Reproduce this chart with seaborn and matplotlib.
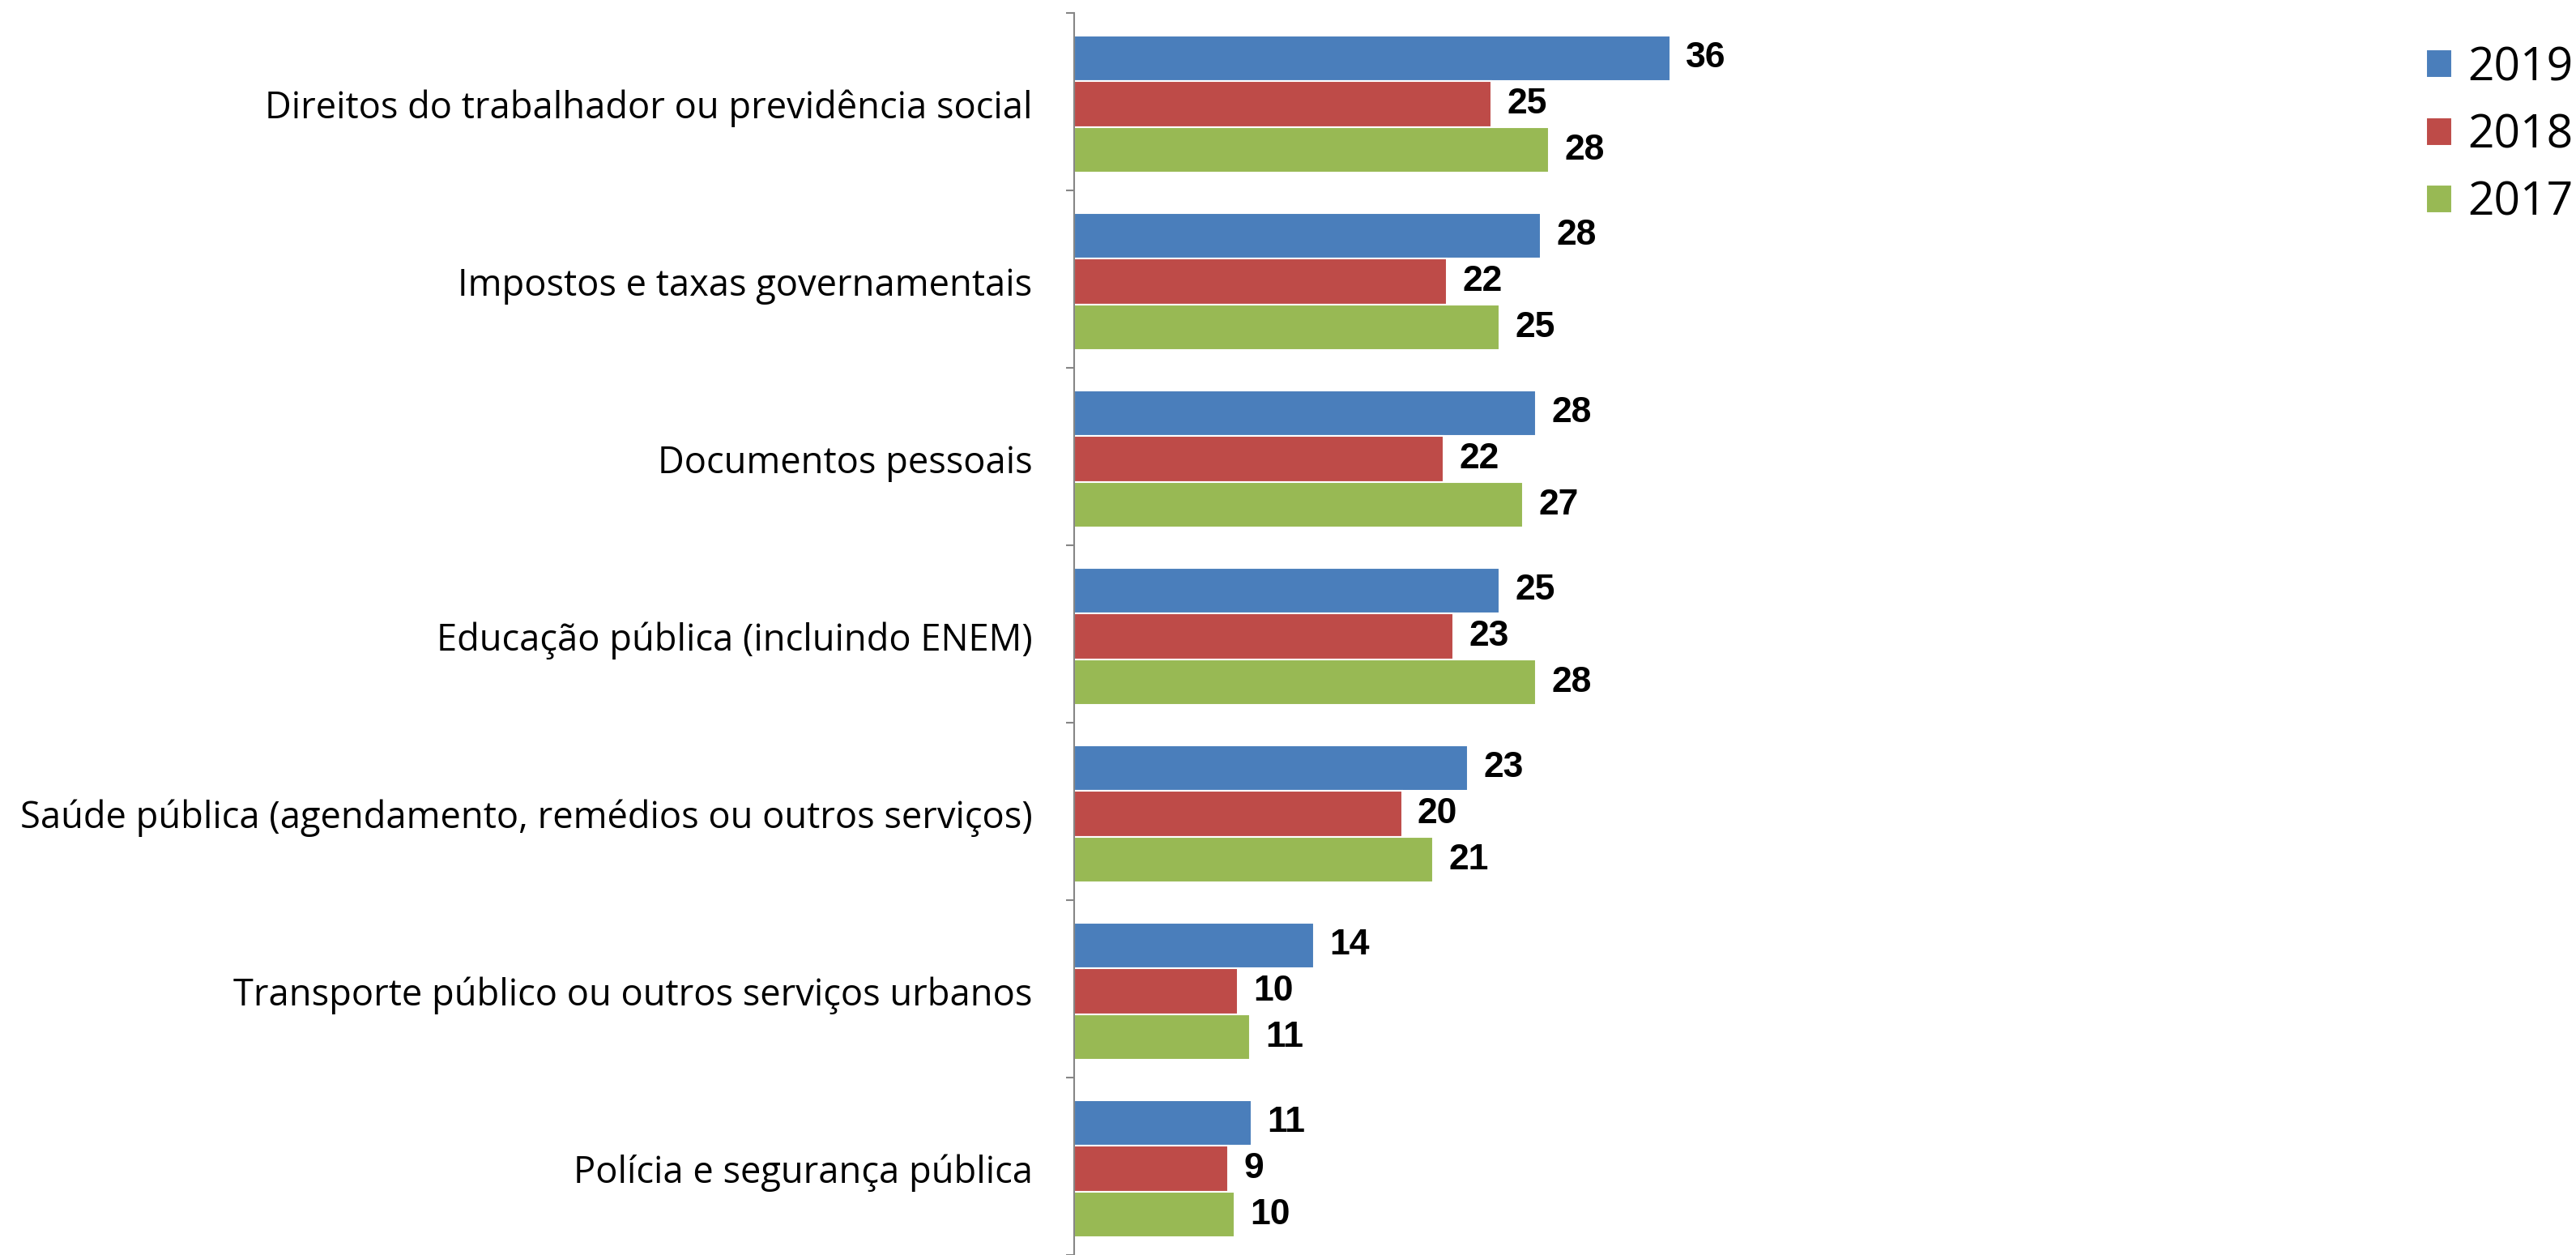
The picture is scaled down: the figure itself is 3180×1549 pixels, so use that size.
import matplotlib
matplotlib.use("Agg")
import matplotlib.pyplot as plt
import seaborn as sns
import pandas as pd
import numpy as np

# Categories (top to bottom) and values per year
categories = [
    "Direitos do trabalhador ou previdência social",
    "Impostos e taxas governamentais",
    "Documentos pessoais",
    "Educação pública (incluindo ENEM)",
    "Saúde pública (agendamento, remédios ou outros serviços)",
    "Transporte público ou outros serviços urbanos",
    "Polícia e segurança pública",
]
years = ["2019", "2018", "2017"]

# bar lengths
values_2019 = [36.0, 28.2, 27.9, 25.7, 23.8, 14.5, 10.7]
values_2018 = [25.2, 22.5, 22.3, 22.9, 19.8, 9.9, 9.3]
values_2017 = [28.7, 25.7, 27.1, 27.9, 21.7, 10.6, 9.7]

# printed data labels
labels_2019 = [36, 28, 28, 25, 23, 14, 11]
labels_2018 = [25, 22, 22, 23, 20, 10, 9]
labels_2017 = [28, 25, 27, 28, 21, 11, 10]

colors = ["#4A7EBB", "#BE4B48", "#98B954"]

rows = []
for year, vals in zip(years, [values_2019, values_2018, values_2017]):
    for cat, v in zip(categories, vals):
        rows.append({"categoria": cat, "ano": year, "valor": v})
df = pd.DataFrame(rows)

sns.set_style("white")
plt.rcParams['font.family'] = ['Open Sans', 'DejaVu Sans']
plt.rcParams['text.color'] = 'black'

fig = plt.figure(figsize=(31.8, 15.49), dpi=100)
ax = fig.add_axes([1326 / 3180, 0.0, 0.257, 1 - 16 / 1549])

sns.barplot(data=df, y="categoria", x="valor", hue="ano", order=categories,
            hue_order=years, palette=colors, orient="h", width=0.775,
            edgecolor="white", linewidth=1.5, saturation=1, ax=ax)

for cont, labs in zip(ax.containers, [labels_2019, labels_2018, labels_2017]):
    ax.bar_label(cont, labels=[str(l) for l in labs], padding=14,
                 fontsize=32, fontweight="bold", family="Liberation Sans",
                 color="black")

# group boundaries sit a little above the middle between bar groups
shift = 0.014
ax.set_xlim(0, 40)
ax.set_ylim(len(categories) - 0.5 - shift, -0.5 - shift)
ax.set_xlabel("")
ax.set_ylabel("")
ax.set_xticks([])

# category labels without tick marks, boundary ticks as minor ticks
ax.set_yticks(range(len(categories)))
ax.set_yticklabels(categories, fontsize=32.6, color="black")
ax.set_yticks(np.arange(len(categories) + 1) - 0.5 - shift, minor=True)
ax.tick_params(axis="y", which="major", length=0, pad=37)
ax.tick_params(axis="y", which="minor", length=7, width=1.5, color="#868686",
               direction="out", left=True)

for side in ["top", "right", "bottom"]:
    ax.spines[side].set_visible(False)
ax.spines["left"].set_color("#868686")
ax.spines["left"].set_linewidth(1.5)

handles, lbls = ax.get_legend_handles_labels()
leg = ax.legend(handles, lbls, loc="upper left",
                bbox_to_anchor=(2995 / 3180, 1 - 56 / 1549),
                bbox_transform=fig.transFigure, frameon=False, fontsize=41,
                handlelength=0.57, handleheight=0.57, handletextpad=0.33,
                labelspacing=0.46, borderaxespad=0, borderpad=0)
for t in leg.get_texts():
    t.set_color("black")

fig.savefig("out.png", dpi=100)
